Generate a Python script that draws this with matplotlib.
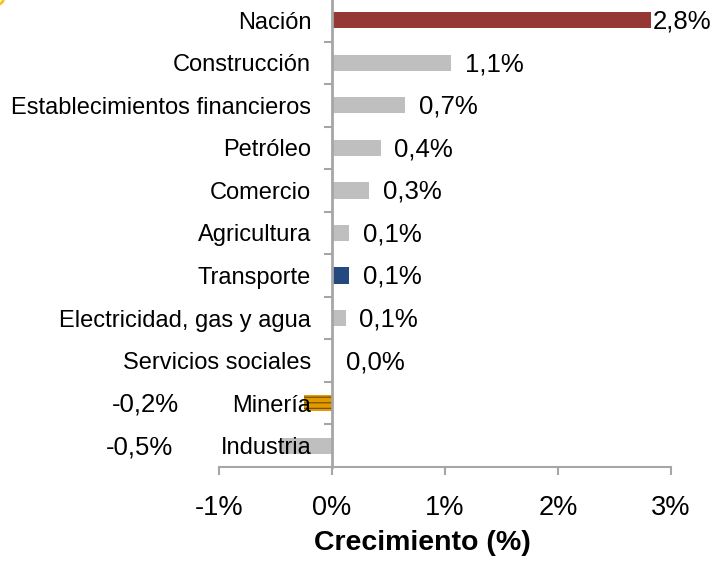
import matplotlib.pyplot as plt
from matplotlib.patches import Arc
from matplotlib.transforms import IdentityTransform

plt.rcParams['font.family'] = ['Liberation Sans', 'DejaVu Sans']
plt.rcParams['hatch.linewidth'] = 0.8

categorias = ['Nación', 'Construcción', 'Establecimientos financieros', 'Petróleo',
              'Comercio', 'Agricultura', 'Transporte', 'Electricidad, gas y agua',
              'Servicios sociales', 'Minería', 'Industria']
valores = [2.82, 1.05, 0.65, 0.43, 0.33, 0.15, 0.15, 0.12, 0.0, -0.25, -0.45]
etiquetas = ['2,8%', '1,1%', '0,7%', '0,4%', '0,3%', '0,1%', '0,1%', '0,1%',
             '0,0%', '-0,2%', '-0,5%']
colores = ['#953735', '#BFBFBF', '#BFBFBF', '#BFBFBF', '#BFBFBF', '#BFBFBF',
           '#23497E', '#BFBFBF', '#BFBFBF', '#E39A00', '#BFBFBF']
ticks_x = [-1, 0, 1, 2, 3]
ticks_x_txt = ['-1%', '0%', '1%', '2%', '3%']

fig = plt.figure(figsize=(7.17, 5.63), dpi=100)
ax = fig.add_axes([219 / 717, 96 / 563, 452 / 717, 468 / 563])

y = list(range(len(categorias)))
barras = ax.barh(y, valores, height=0.38, color=colores, zorder=1)
barras[9].set_hatch('---')
barras[9].set_edgecolor('#6B4A00')
barras[9].set_linewidth(0)

ax.set_xlim(-1, 3)
ax.set_ylim(len(categorias) - 0.5, -0.5)
ax.set_axisbelow(False)

# etiquetas de valor
for i, (v, t) in enumerate(zip(valores, etiquetas)):
    if i == 0:
        dx, ha = 1.5, 'left'
    elif v >= 0:
        dx, ha = 10, 'left'
    elif i == 9:
        dx, ha = -90, 'right'
    else:
        dx, ha = -78, 'right'
    ax.annotate(t, (v, i), xytext=(dx, -1), textcoords='offset points',
                ha=ha, va='center', fontsize=18.5)

# ejes
for s in ['top', 'right']:
    ax.spines[s].set_visible(False)
ax.spines['left'].set_position(('data', 0))
ax.spines['left'].set_color('#A6A6A6')
ax.spines['left'].set_linewidth(2)
ax.spines['bottom'].set_color('#A6A6A6')
ax.spines['bottom'].set_linewidth(1.5)

ax.set_yticks(y)
ax.set_yticklabels(categorias, fontsize=17)
ax.set_yticks([i - 0.5 for i in range(len(categorias))], minor=True)
ax.tick_params(axis='y', which='major', length=0, pad=15)
ax.tick_params(axis='y', which='minor', length=6, width=1.5, color='#A6A6A6')

ax.set_xticks(ticks_x)
ax.set_xticklabels(ticks_x_txt, fontsize=19.5)
ax.tick_params(axis='x', length=6, width=1.5, color='#A6A6A6', pad=14)
ax.set_xlabel('Crecimiento (%)', fontsize=20.5, fontweight='bold')
ax.xaxis.label.set_va('center')
ax.xaxis.set_label_coords(0.449, -0.163)

# resto de logo en la esquina
fig.patches.append(Arc((-4, 566), 16, 16, color='#F5C518', lw=2,
                       transform=IdentityTransform()))

fig.savefig('out.png', dpi=100)
